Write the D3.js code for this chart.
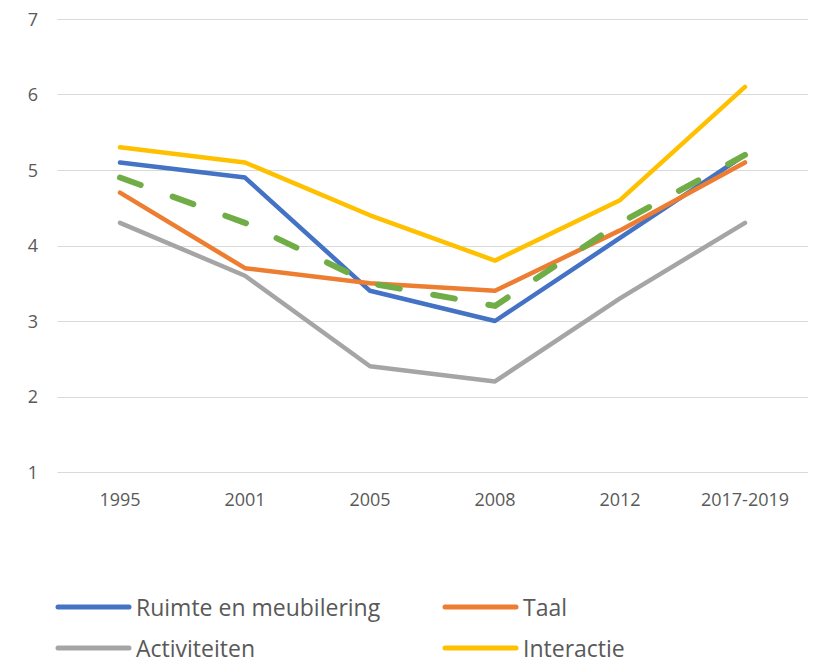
<!DOCTYPE html>
<html>
<head>
<meta charset="utf-8">
<script src="https://cdn.jsdelivr.net/npm/d3@7"></script>
<style>
  body { margin: 0; background: #fff; }
  text { font-family: "Open Sans", "Liberation Sans", sans-serif; fill: #595959; }
</style>
</head>
<body>
<script>
	// data
	var years = ["1995", "2001", "2005", "2008", "2012", "2017-2019"];
	var ruimte = [5.1, 4.9, 3.4, 3.0, 4.1, 5.2];
	var taal = [4.7, 3.7, 3.5, 3.4, 4.2, 5.1];
	var activiteiten = [4.3, 3.6, 2.4, 2.2, 3.3, 4.3];
	var interactie = [5.3, 5.1, 4.4, 3.8, 4.6, 6.1];
	var gemiddeld = [4.9, 4.3, 3.5, 3.2, 4.3, 5.2];
	var yTicks = [1, 2, 3, 4, 5, 6, 7];

	var series = [
		{ name: "Ruimte en meubilering", values: ruimte, color: "#4472C4", legend: true },
		{ name: "Taal", values: taal, color: "#ED7D31", legend: true },
		{ name: "Activiteiten", values: activiteiten, color: "#A5A5A5", legend: true },
		{ name: "Interactie", values: interactie, color: "#FFC000", legend: true },
		{ name: "Gemiddeld", values: gemiddeld, color: "#70AD47", legend: false, dash: "22,34" }
	];

	var svg_w = 818, svg_h = 657;
	var svg = d3.select("body").append("svg")
		.attr("width", svg_w)
		.attr("height", svg_h);

	var x = d3.scalePoint()
		.domain(years)
		.range([57.5, 807.5])
		.padding(0.5);

	var y = d3.scaleLinear()
		.domain([1, 7])
		.range([472, 19]);

	// gridlines
	svg.append("g")
		.selectAll("line")
		.data(yTicks)
		.enter()
		.append("line")
		.attr("x1", 57.5)
		.attr("x2", 808)
		.attr("y1", d => Math.round(y(d)) + 0.5)
		.attr("y2", d => Math.round(y(d)) + 0.5)
		.attr("stroke", "#D9D9D9")
		.attr("stroke-width", 1.2);

	// y labels
	svg.append("g")
		.selectAll("text")
		.data(yTicks)
		.enter()
		.append("text")
		.attr("x", 38)
		.attr("y", d => y(d) + 6.5)
		.attr("text-anchor", "end")
		.attr("font-size", 18)
		.text(d => d);

	// x labels
	svg.append("g")
		.selectAll("text")
		.data(years)
		.enter()
		.append("text")
		.attr("x", d => x(d))
		.attr("y", 506)
		.attr("text-anchor", "middle")
		.attr("font-size", 18)
		.text(d => d);

	var line = d3.line()
		.x((d, i) => x(years[i]))
		.y(d => y(d));

	svg.append("g")
		.selectAll("path")
		.data(series)
		.enter()
		.append("path")
		.attr("d", d => line(d.values))
		.attr("fill", "none")
		.attr("stroke", d => d.color)
		.attr("stroke-width", d => d.dash ? 6 : 4.5)
		.attr("stroke-linecap", "round")
		.attr("stroke-linejoin", "round")
		.attr("stroke-dasharray", d => d.dash || null);

	// legend
	var legItems = series.filter(d => d.legend);
	var leg = svg.append("g")
		.selectAll("g")
		.data(legItems)
		.enter()
		.append("g")
		.attr("transform", (d, i) => "translate(" + (i % 2 == 0 ? 58 : 445) + "," + (i < 2 ? 607 : 648) + ")");

	leg.append("line")
		.attr("x1", 0)
		.attr("x2", 71)
		.attr("stroke", d => d.color)
		.attr("stroke-width", 5)
		.attr("stroke-linecap", "round");

	leg.append("text")
		.attr("x", 78)
		.attr("y", 9)
		.attr("font-size", 23)
		.text(d => d.name);
</script>
</body>
</html>
